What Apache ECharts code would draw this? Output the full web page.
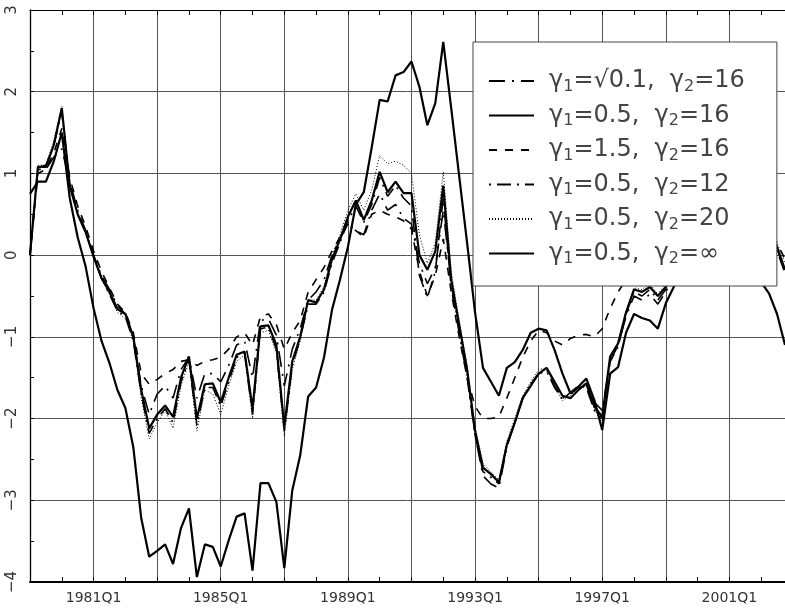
<!DOCTYPE html>
<html>
<head>
<meta charset="utf-8">
<script src="https://cdn.jsdelivr.net/npm/echarts@6/dist/echarts.min.js"></script>
<style>
  html, body { margin: 0; padding: 0; background: #fff; }
  #chart { width: 785px; height: 611px; }
</style>
</head>
<body>
<div id="chart"></div>
<script>
// Quarterly categories 1979Q1 .. 2002Q4
const quarters = [];
for (let y = 1979; y <= 2002; y++) {
  for (let q = 1; q <= 4; q++) quarters.push(y + 'Q' + q);
}

// Tick labels shown on the time axis
const xTickLabels = ['1981Q1', '1985Q1', '1989Q1', '1993Q1', '1997Q1', '2001Q1'];
const yTicks = [-4, -3, -2, -1, 0, 1, 2, 3];

// Legend parameters (gamma1, gamma2)
const gammaPairs = [
  ['√0.1', '16'],
  ['0.5', '16'],
  ['1.5', '16'],
  ['0.5', '12'],
  ['0.5', '20'],
  ['0.5', '∞']
];

// gamma1 = sqrt(0.1), gamma2 = 16
const gSqrt01_16 = [
  0.0, 1.05, 1.05, 1.2, 1.3, 0.9, 0.55, 0.3, 0.0, -0.25,
  -0.42, -0.62, -0.72, -1.0, -1.6, -1.95, -1.7, -1.6, -1.75, -1.4,
  -1.25, -1.75, -1.45, -1.45, -1.55, -1.35, -1.1, -1.05, -1.5, -0.8,
  -0.78, -0.98, -1.6, -1.15, -0.9, -0.55, -0.45, -0.3, 0.0, 0.2,
  0.38, 0.3, 0.25, 0.55, 0.75, 0.55, 0.62, 0.45, 0.38, -0.1,
  -0.35, -0.15, 0.55, -0.35, -0.9, -1.45, -2.2, -2.7, -2.8, -2.85,
  -2.35, -2.05, -1.75, -1.58, -1.45, -1.4, -1.6, -1.75, -1.7, -1.62,
  -1.6, -1.8, -1.9, -1.3, -1.1, -0.75, -0.5, -0.55, -0.48, -0.6,
  -0.45, -0.25, -0.1, 0.05, 0.15, 0.3, 0.25, 0.4, 0.5, 0.55,
  0.5, 0.45, 0.4, 0.32, 0.08, -0.2
];

// gamma1 = 0.5, gamma2 = 16
const g05_16 = [
  0.0, 1.08, 1.08, 1.35, 1.8, 0.85, 0.5, 0.28, -0.02, -0.28,
  -0.45, -0.66, -0.72, -1.0, -1.65, -2.12, -1.95, -1.84, -1.98, -1.5,
  -1.24, -2.0, -1.58, -1.57, -1.8, -1.5, -1.22, -1.18, -1.88, -0.87,
  -0.86, -1.1, -2.1, -1.3, -1.0, -0.55, -0.58, -0.42, -0.05, 0.19,
  0.47, 0.67, 0.43, 0.67, 1.02, 0.77, 0.9, 0.76, 0.76, 0.0,
  -0.18, 0.05, 0.85, -0.3, -0.85, -1.4, -2.15, -2.6, -2.68, -2.78,
  -2.32, -2.05, -1.75, -1.6, -1.45, -1.38, -1.55, -1.72, -1.75, -1.65,
  -1.57, -1.85, -1.98, -1.24, -1.08, -0.7, -0.42, -0.45, -0.39, -0.5,
  -0.39, -0.2, -0.05, 0.1, 0.2, 0.35, 0.3, 0.45, 0.55, 0.6,
  0.55, 0.5, 0.45, 0.35, 0.1, -0.18
];

// gamma1 = 1.5, gamma2 = 16
const g15_16 = [
  0.0, 1.0, 1.05, 1.25, 1.55, 0.95, 0.6, 0.35, 0.05, -0.2,
  -0.4, -0.6, -0.7, -0.95, -1.45, -1.58, -1.52, -1.45, -1.4, -1.3,
  -1.28, -1.35, -1.3, -1.28, -1.25, -1.15, -1.0, -0.95, -1.1, -0.75,
  -0.72, -0.85, -1.15, -0.95, -0.8, -0.45, -0.3, -0.15, 0.05, 0.22,
  0.38, 0.3, 0.22, 0.5, 0.55, 0.5, 0.47, 0.42, 0.32, -0.2,
  -0.5, -0.25, 0.2, -0.45, -1.0, -1.5, -1.85, -2.0, -2.0, -1.98,
  -1.75, -1.5, -1.25, -1.05, -0.92, -0.95, -1.05, -1.1, -1.02, -0.98,
  -0.97, -1.0, -0.9, -0.65, -0.45, -0.3, -0.25, -0.3, -0.2, -0.3,
  -0.2, -0.05, 0.05, 0.15, 0.25, 0.35, 0.35, 0.45, 0.5, 0.55,
  0.5, 0.45, 0.4, 0.3, 0.15, -0.05
];

// gamma1 = 0.5, gamma2 = 12
const g05_12 = [
  0.0, 1.08, 1.1, 1.35, 1.75, 0.88, 0.52, 0.3, 0.0, -0.28,
  -0.48, -0.68, -0.75, -1.05, -1.7, -2.18, -2.0, -1.88, -2.05, -1.55,
  -1.28, -2.08, -1.62, -1.62, -1.85, -1.55, -1.25, -1.2, -1.95, -0.9,
  -0.88, -1.15, -2.15, -1.35, -1.02, -0.6, -0.6, -0.45, -0.1, 0.15,
  0.42, 0.6, 0.4, 0.62, 0.95, 0.72, 0.85, 0.7, 0.6, -0.25,
  -0.52, -0.2, 0.7, -0.4, -0.95, -1.5, -2.2, -2.65, -2.72, -2.8,
  -2.32, -2.05, -1.75, -1.58, -1.45, -1.42, -1.62, -1.77, -1.68, -1.6,
  -1.62, -1.9, -2.0, -1.3, -1.12, -0.72, -0.45, -0.5, -0.42, -0.55,
  -0.42, -0.25, -0.1, 0.05, 0.15, 0.3, 0.28, 0.42, 0.52, 0.58,
  0.52, 0.48, 0.42, 0.33, 0.05, -0.22
];

// gamma1 = 0.5, gamma2 = 20
const g05_20 = [
  0.0, 1.1, 1.1, 1.4, 1.82, 0.85, 0.5, 0.28, -0.03, -0.3,
  -0.48, -0.7, -0.78, -1.05, -1.75, -2.25, -2.05, -1.9, -2.12, -1.6,
  -1.3, -2.15, -1.65, -1.7, -1.95, -1.6, -1.3, -1.22, -2.0, -0.95,
  -0.92, -1.2, -2.22, -1.4, -1.05, -0.55, -0.55, -0.38, 0.0, 0.25,
  0.55, 0.75, 0.55, 0.8, 1.22, 1.12, 1.15, 1.1, 1.0, 0.25,
  -0.1, 0.15, 1.02, -0.2, -0.8, -1.35, -2.1, -2.55, -2.65, -2.75,
  -2.28, -2.0, -1.72, -1.55, -1.4, -1.38, -1.6, -1.78, -1.72, -1.62,
  -1.6, -1.88, -2.05, -1.28, -1.1, -0.68, -0.4, -0.42, -0.35, -0.48,
  -0.35, -0.15, 0.0, 0.15, 0.25, 0.4, 0.35, 0.5, 0.6, 0.65,
  0.6, 0.55, 0.5, 0.4, 0.15, -0.1
];

// gamma1 = 0.5, gamma2 = infinity
const g05_inf = [
  0.75, 0.9, 0.9, 1.15, 1.5, 0.7, 0.22, -0.14, -0.65, -1.05,
  -1.32, -1.65, -1.87, -2.35, -3.22, -3.69, -3.62, -3.54, -3.78, -3.34,
  -3.1, -3.94, -3.54, -3.57, -3.81, -3.49, -3.2, -3.16, -3.86, -2.79,
  -2.79, -3.02, -3.83, -2.88, -2.45, -1.73, -1.62, -1.25, -0.67, -0.3,
  0.1, 0.62, 0.77, 1.32, 1.9, 1.88, 2.2, 2.24, 2.37, 2.06,
  1.59, 1.86, 2.61, 1.8, 0.97, 0.15, -0.7, -1.38, -1.55, -1.72,
  -1.38, -1.31, -1.16, -0.95, -0.9, -0.92, -1.16, -1.45, -1.69, -1.61,
  -1.51, -1.77, -2.14, -1.45, -1.37, -0.95, -0.72, -0.77, -0.8, -0.9,
  -0.59, -0.39, -0.15, 0.05, 0.0, 0.2, 0.3, 0.25, 0.4, 0.3,
  0.15, -0.05, -0.33, -0.47, -0.72, -1.1
];

const seriesValues = [gSqrt01_16, g05_16, g15_16, g05_12, g05_20, g05_inf];
const lineStyles = [
  { width: 1.6, type: [16, 7, 2, 7] },
  { width: 2.2, type: 'solid' },
  { width: 1.6, type: [8, 8] },
  { width: 1.6, type: [2, 6, 14, 6] },
  { width: 1, type: [1, 2] },
  { width: 2.2, type: 'solid' }
];

const names = gammaPairs.map(p => 'γ1=' + p[0] + ', γ2=' + p[1]);
const legendRich = {};
gammaPairs.forEach((p, i) => {
  legendRich[names[i]] = '{g|γ}{s|1}{t|=' + p[0] + ',  }{g|γ}{s|2}{t|=' + p[1] + '}';
});

const chart = echarts.init(document.getElementById('chart'), null, { renderer: 'canvas' });

const FONT = 'DejaVu Sans';

chart.setOption({
  animation: false,
  backgroundColor: '#ffffff',
  grid: { left: 30, top: 10, right: -2.6, bottom: 29 },
  legend: {
    z: 20,
    data: names,
    orient: 'vertical',
    left: 473,
    top: 42,
    padding: [27, 32, 19, 15],
    itemGap: 9,
    itemWidth: 45,
    itemHeight: 14,
    backgroundColor: '#ffffff',
    borderColor: '#444',
    borderWidth: 1,
    itemStyle: { opacity: 0 },
    formatter: name => legendRich[name],
    textStyle: {
      padding: [0, 0, 0, 10],
      rich: {
        t: { fontFamily: FONT, fontSize: 24, color: '#444', lineHeight: 27 },
        g: { fontFamily: FONT, fontSize: 24, color: '#444', lineHeight: 27 },
        s: { fontFamily: FONT, fontSize: 16, color: '#444', verticalAlign: 'bottom' }
      }
    }
  },
  xAxis: [
    {
      type: 'category',
      data: quarters,
      boundaryGap: false,
      position: 'bottom',
      axisLine: { show: true, onZero: false, lineStyle: { color: '#000', width: 2 } },
      axisTick: {
        show: true, inside: true, length: 5,
        interval: i => i % 4 === 0,
        lineStyle: { color: '#000', width: 1 }
      },
      axisLabel: {
        show: true,
        interval: (i, v) => xTickLabels.indexOf(v) >= 0,
        fontFamily: FONT, fontSize: 14, color: '#333', margin: 9
      },
      splitLine: {
        show: true,
        interval: i => i % 8 === 0,
        lineStyle: { color: '#555', width: 1 }
      }
    },
    {
      type: 'category',
      data: quarters,
      boundaryGap: false,
      position: 'top',
      axisLine: { show: true, onZero: false, lineStyle: { color: '#000', width: 1 } },
      axisTick: {
        show: true, inside: true, length: 5,
        interval: i => i % 4 === 0,
        lineStyle: { color: '#000', width: 1 }
      },
      axisLabel: { show: false },
      splitLine: { show: false }
    }
  ],
  yAxis: {
    type: 'value',
    min: yTicks[0],
    max: yTicks[yTicks.length - 1],
    interval: 1,
    axisLine: { show: true, onZero: false, lineStyle: { color: '#000', width: 1.3 } },
    axisTick: { show: true, inside: true, length: 4, lineStyle: { color: '#000' } },
    minorTick: { show: true, splitNumber: 2, length: 4, lineStyle: { color: '#000' } },
    axisLabel: {
      rotate: 90,
      fontFamily: FONT, fontSize: 15, color: '#333', margin: 10,
      formatter: v => (v < 0 ? '\u2212' + Math.abs(v) : String(v))
    },
    splitLine: { show: true, lineStyle: { color: '#555', width: 1 } }
  },
  series: seriesValues.map((vals, i) => ({
    name: names[i],
    type: 'line',
    xAxisIndex: 0,
    data: vals,
    symbol: 'none',
    showSymbol: false,
    smooth: false,
    lineStyle: Object.assign({ color: '#000' }, lineStyles[i]),
    itemStyle: { color: '#000' },
    emphasis: { disabled: true },
    z: 2
  }))
});
</script>
</body>
</html>
